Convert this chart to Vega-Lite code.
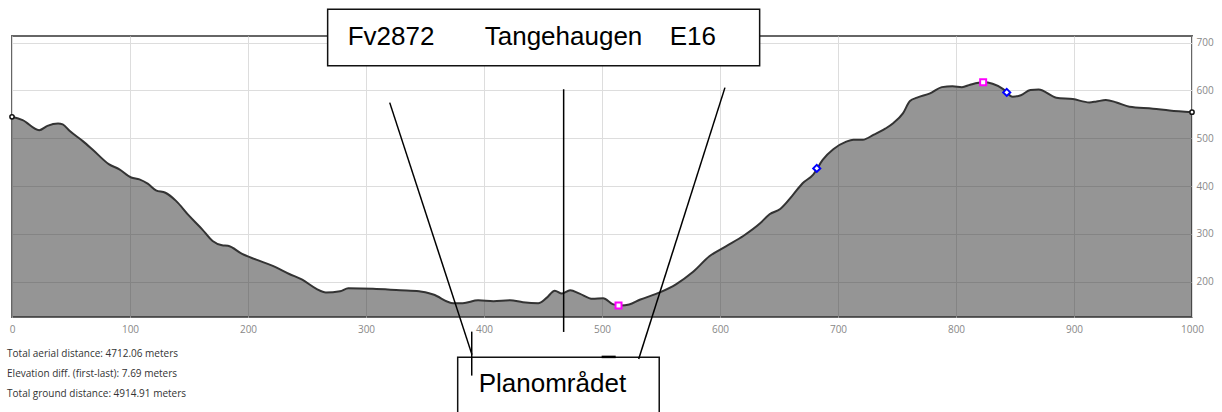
{
  "$schema": "https://vega.github.io/schema/vega-lite/v6.json",
  "width": 1180,
  "height": 281,
  "autosize": {"type": "none"},
  "padding": {"left": 12, "top": 36, "right": 30, "bottom": 95},
  "background": "white",
  "config": {
    "view": {"stroke": "#666", "strokeWidth": 2},
    "axis": {"gridColor": "#dddddd", "gridWidth": 1, "labelColor": "#888888", "labelFontSize": 10, "labelFont": "Open Sans", "ticks": false, "domain": false, "title": null, "labelFlush": false}
  },
  "datasets": {
    "profile": [
      {"x": 0, "y": 545}, {"x": 9, "y": 538}, {"x": 23, "y": 517}, {"x": 30, "y": 526}, {"x": 39, "y": 531}, {"x": 43, "y": 529}, {"x": 49, "y": 515}, {"x": 60, "y": 494}, {"x": 68, "y": 477}, {"x": 82, "y": 446}, {"x": 91, "y": 435}, {"x": 101, "y": 418}, {"x": 108, "y": 414}, {"x": 115, "y": 405}, {"x": 122, "y": 391}, {"x": 130, "y": 386}, {"x": 139, "y": 369}, {"x": 150, "y": 338}, {"x": 161, "y": 310}, {"x": 170, "y": 285}, {"x": 178, "y": 276}, {"x": 183, "y": 275}, {"x": 195, "y": 258}, {"x": 207, "y": 246}, {"x": 221, "y": 233}, {"x": 235, "y": 216}, {"x": 246, "y": 204}, {"x": 258, "y": 185}, {"x": 266, "y": 177.5}, {"x": 278, "y": 180}, {"x": 285, "y": 186}, {"x": 306, "y": 185}, {"x": 329, "y": 182}, {"x": 345, "y": 180}, {"x": 357, "y": 173}, {"x": 374, "y": 155}, {"x": 382, "y": 155}, {"x": 395, "y": 161}, {"x": 408, "y": 159}, {"x": 422, "y": 161}, {"x": 433, "y": 157}, {"x": 446, "y": 155}, {"x": 453, "y": 166}, {"x": 460, "y": 181}, {"x": 466, "y": 175}, {"x": 473, "y": 182}, {"x": 481, "y": 175}, {"x": 492, "y": 164}, {"x": 501, "y": 165}, {"x": 509, "y": 153}, {"x": 516, "y": 150}, {"x": 523, "y": 152}, {"x": 532, "y": 162}, {"x": 549, "y": 177.5}, {"x": 563, "y": 195}, {"x": 577, "y": 220}, {"x": 591, "y": 253}, {"x": 605, "y": 274}, {"x": 620, "y": 296}, {"x": 634, "y": 322}, {"x": 642, "y": 341}, {"x": 651, "y": 352}, {"x": 662, "y": 382}, {"x": 670, "y": 406}, {"x": 679, "y": 424}, {"x": 687, "y": 455}, {"x": 696, "y": 477}, {"x": 707, "y": 493}, {"x": 713, "y": 497}, {"x": 721, "y": 497}, {"x": 730, "y": 507}, {"x": 740, "y": 520}, {"x": 747, "y": 532}, {"x": 755, "y": 552}, {"x": 761, "y": 578}, {"x": 767, "y": 585}, {"x": 778, "y": 594}, {"x": 788, "y": 607}, {"x": 797, "y": 609}, {"x": 805, "y": 607}, {"x": 812, "y": 612}, {"x": 823, "y": 617}, {"x": 831, "y": 614}, {"x": 840, "y": 603}, {"x": 848, "y": 587}, {"x": 855, "y": 590}, {"x": 863, "y": 601}, {"x": 870, "y": 602}, {"x": 885, "y": 585}, {"x": 899, "y": 582}, {"x": 913, "y": 575}, {"x": 919, "y": 577}, {"x": 927, "y": 580}, {"x": 936, "y": 575}, {"x": 947, "y": 566}, {"x": 967, "y": 562}, {"x": 981, "y": 558}, {"x": 1000, "y": 554.5}
    ],
    "ends": [{"x": 0, "y": 545}, {"x": 1000, "y": 554.5}],
    "extremes": [{"x": 514, "y": 150}, {"x": 823, "y": 617}],
    "marks": [{"x": 682, "y": 437}, {"x": 843, "y": 596}],
    "boxes": [
      {"x": 267.5, "x2": 633.6, "y": 769.8, "y2": 651.9},
      {"x": 377.7, "x2": 548.5, "y": 41.6, "y2": -120}
    ],
    "leaders": [
      {"x": 320.1, "y": 574.6, "x2": 389.8, "y2": 47.3},
      {"x": 467.5, "y": 602.6, "x2": 467.5, "y2": 94.7},
      {"x": 604.2, "y": 606, "x2": 531.1, "y2": 38.3},
      {"x": 389.6, "y": 95.4, "x2": 389.6, "y2": 3.4}
    ],
    "dash": [{"x": 499.7, "y": 42.5, "x2": 511.6, "y2": 42.5}],
    "annot": [
      {"x": 284.5, "y": 695.2, "label": "Fv2872"},
      {"x": 400.6, "y": 695.2, "label": "Tangehaugen"},
      {"x": 557.4, "y": 695.2, "label": "E16"},
      {"x": 395.5, "y": -30.7, "label": "Planområdet"}
    ],
    "info": [
      {"x": -4.2, "y": 43.1, "label": "Total aerial distance: 4712.06 meters"},
      {"x": -4.2, "y": 1.3, "label": "Elevation diff. (first-last): 7.69 meters"},
      {"x": -4.2, "y": -41.6, "label": "Total ground distance: 4914.91 meters"}
    ]
  },
  "encoding": {
    "x": {"field": "x", "type": "quantitative", "scale": {"domain": [0, 1000], "nice": false, "zero": false}, "axis": {"values": [0, 100, 200, 300, 400, 500, 600, 700, 800, 900, 1000], "format": "d", "labelPadding": 7}},
    "y": {"field": "y", "type": "quantitative", "scale": {"domain": [126, 714], "nice": false, "zero": false}, "axis": {"orient": "right", "values": [200, 300, 400, 500, 600, 700], "format": "d", "labelPadding": 4}}
  },
  "layer": [
    {"data": {"name": "profile"}, "mark": {"type": "area", "interpolate": "monotone", "color": "#2b2b2b", "opacity": 0.5, "clip": true}, "encoding": {"y2": {"datum": 126}}},
    {"data": {"name": "profile"}, "mark": {"type": "line", "interpolate": "monotone", "color": "#333333", "strokeWidth": 2, "clip": true}, "encoding": {}},
    {"data": {"name": "ends"}, "mark": {"type": "point", "shape": "circle", "filled": true, "fill": "white", "stroke": "#111", "strokeWidth": 1.5, "size": 18, "opacity": 1}},
    {"data": {"name": "extremes"}, "mark": {"type": "point", "shape": "square", "filled": true, "fill": "white", "stroke": "#ff00ff", "strokeWidth": 2, "size": 36, "opacity": 1}},
    {"data": {"name": "marks"}, "mark": {"type": "point", "shape": "diamond", "filled": true, "fill": "white", "stroke": "#0000ff", "strokeWidth": 2, "size": 50, "opacity": 1}},
    {"data": {"name": "boxes"}, "mark": {"type": "rect", "fill": "white", "stroke": "#111", "strokeWidth": 1.5}, "encoding": {"x2": {"field": "x2"}, "y2": {"field": "y2"}}},
    {"data": {"name": "leaders"}, "mark": {"type": "rule", "color": "#000", "strokeWidth": 1.5}, "encoding": {"x2": {"field": "x2"}, "y2": {"field": "y2"}}},
    {"data": {"name": "dash"}, "mark": {"type": "rule", "color": "#000", "strokeWidth": 2.5}, "encoding": {"x2": {"field": "x2"}, "y2": {"field": "y2"}}},
    {"data": {"name": "annot"}, "mark": {"type": "text", "align": "left", "baseline": "alphabetic", "font": "Liberation Sans", "fontSize": 26, "color": "#000"}, "encoding": {"text": {"field": "label"}}},
    {"data": {"name": "info"}, "mark": {"type": "text", "align": "left", "baseline": "alphabetic", "font": "Open Sans", "fontSize": 10, "color": "#333"}, "encoding": {"text": {"field": "label"}}}
  ]
}
